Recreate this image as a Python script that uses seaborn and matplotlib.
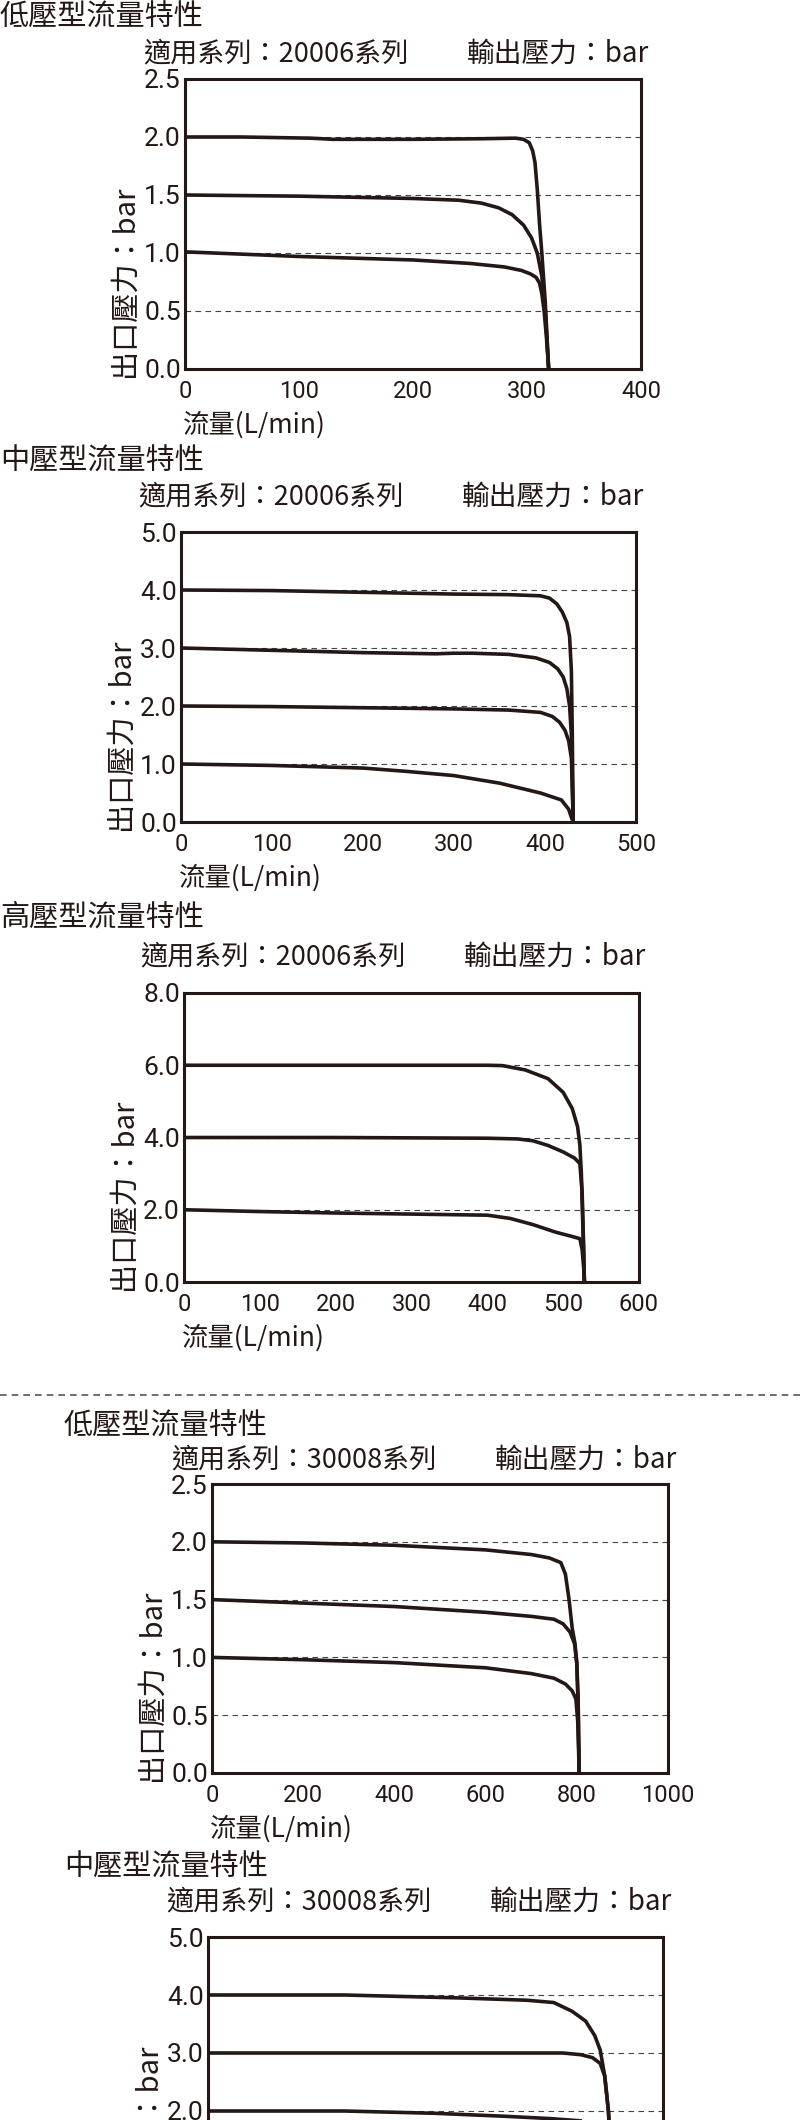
import numpy as np
import pandas as pd
import matplotlib
matplotlib.use('Agg')
import matplotlib.pyplot as plt
from matplotlib.lines import Line2D
import seaborn as sns

# ---- chart values ----
titles = ['低壓型流量特性', '中壓型流量特性', '高壓型流量特性', '低壓型流量特性', '中壓型流量特性']
series_names = ['20006', '20006', '20006', '30008', '30008']
x_max = [400, 500, 600, 1000, 1000]
y_max = [2.5, 5.0, 8.0, 2.5, 5.0]
x_label_step = [100, 100, 100, 200, 200]
x_tick_step = [100, 100, 50, 200, 200]
y_tick_step = [0.5, 1.0, 2.0, 0.5, 1.0]

# panel 1: low pressure, 20006
p1_flow_a = [0, 50, 110, 130, 200, 260, 290, 297, 302, 305, 307, 309, 311, 313, 316, 319]
p1_pres_a = [2.00, 2.00, 1.99, 1.98, 1.98, 1.985, 1.99, 1.98, 1.95, 1.88, 1.78, 1.55, 1.25, 1.00, 0.58, 0.0]
p1_flow_b = [0, 100, 200, 240, 260, 275, 287, 297, 304, 309, 313, 316, 319]
p1_pres_b = [1.50, 1.49, 1.47, 1.455, 1.43, 1.39, 1.33, 1.24, 1.13, 1.00, 0.80, 0.50, 0.0]
p1_flow_c = [0, 50, 100, 150, 200, 250, 280, 295, 303, 308, 311, 313, 315, 317, 319]
p1_pres_c = [1.01, 0.99, 0.97, 0.955, 0.94, 0.91, 0.88, 0.85, 0.82, 0.79, 0.74, 0.65, 0.50, 0.28, 0.0]

# panel 2: medium pressure, 20006
p2_flow_a = [0, 100, 200, 300, 360, 395, 405, 413, 419, 424, 427, 429, 430, 431]
p2_pres_a = [4.00, 3.99, 3.96, 3.93, 3.92, 3.90, 3.86, 3.76, 3.62, 3.44, 3.20, 2.60, 1.50, 0.0]
p2_flow_b = [0, 100, 200, 280, 300, 320, 360, 390, 405, 414, 420, 424, 427, 429, 431]
p2_pres_b = [3.00, 2.96, 2.92, 2.90, 2.91, 2.91, 2.89, 2.83, 2.75, 2.64, 2.50, 2.30, 2.00, 1.50, 0.0]
p2_flow_c = [0, 100, 200, 300, 360, 395, 408, 416, 422, 426, 429, 431]
p2_pres_c = [2.00, 1.99, 1.97, 1.95, 1.93, 1.89, 1.82, 1.72, 1.58, 1.40, 1.10, 0.0]
p2_flow_d = [0, 100, 200, 250, 300, 350, 395, 418, 426, 429, 431]
p2_pres_d = [1.00, 0.975, 0.93, 0.87, 0.80, 0.67, 0.50, 0.38, 0.22, 0.08, 0.0]

# panel 3: high pressure, 20006
p3_flow_a = [0, 200, 400, 420, 450, 480, 500, 512, 519, 522, 524, 526, 528]
p3_pres_a = [6.00, 6.00, 6.00, 5.99, 5.87, 5.63, 5.25, 4.80, 4.30, 3.80, 3.00, 1.50, 0.0]
p3_flow_b = [0, 200, 400, 440, 460, 480, 500, 515, 522, 525, 527, 528]
p3_pres_b = [4.00, 4.00, 3.98, 3.96, 3.91, 3.78, 3.60, 3.43, 3.28, 2.50, 1.00, 0.0]
p3_flow_c = [0, 100, 200, 300, 400, 430, 460, 490, 510, 522, 525, 527, 528]
p3_pres_c = [2.00, 1.95, 1.91, 1.88, 1.85, 1.76, 1.59, 1.38, 1.27, 1.20, 0.90, 0.40, 0.0]

# panel 4: low pressure, 30008
p4_flow_a = [0, 200, 400, 600, 700, 740, 765, 775, 783, 790, 796, 800, 803, 805]
p4_pres_a = [2.00, 1.99, 1.97, 1.93, 1.89, 1.86, 1.82, 1.72, 1.50, 1.25, 1.12, 0.95, 0.60, 0.0]
p4_flow_b = [0, 200, 400, 600, 700, 750, 770, 785, 795, 800, 803, 805]
p4_pres_b = [1.50, 1.47, 1.44, 1.39, 1.355, 1.33, 1.29, 1.22, 1.12, 0.95, 0.60, 0.0]
p4_flow_c = [0, 200, 400, 600, 700, 750, 775, 790, 798, 802, 804, 805]
p4_pres_c = [1.00, 0.98, 0.955, 0.91, 0.86, 0.82, 0.77, 0.71, 0.64, 0.45, 0.20, 0.0]

# panel 5: medium pressure, 30008 (cut off by the page edge)
p5_flow_a = [0, 300, 550, 700, 760, 800, 830, 850, 862, 872, 880, 886, 890]
p5_pres_a = [4.00, 4.00, 3.95, 3.91, 3.87, 3.72, 3.55, 3.30, 3.05, 2.60, 2.00, 1.20, 0.0]
p5_flow_b = [0, 400, 700, 780, 820, 845, 862, 872, 880, 886, 890]
p5_pres_b = [3.00, 3.00, 3.00, 3.00, 2.97, 2.92, 2.82, 2.60, 2.00, 1.20, 0.0]
p5_flow_c = [0, 300, 500, 650, 750, 820, 860, 878, 886, 890]
p5_pres_c = [2.00, 2.00, 1.96, 1.91, 1.87, 1.83, 1.75, 1.55, 1.00, 0.0]

panel_curves = [
    [(p1_flow_a, p1_pres_a), (p1_flow_b, p1_pres_b), (p1_flow_c, p1_pres_c)],
    [(p2_flow_a, p2_pres_a), (p2_flow_b, p2_pres_b), (p2_flow_c, p2_pres_c), (p2_flow_d, p2_pres_d)],
    [(p3_flow_a, p3_pres_a), (p3_flow_b, p3_pres_b), (p3_flow_c, p3_pres_c)],
    [(p4_flow_a, p4_pres_a), (p4_flow_b, p4_pres_b), (p4_flow_c, p4_pres_c)],
    [(p5_flow_a, p5_pres_a), (p5_flow_b, p5_pres_b), (p5_flow_c, p5_pres_c)],
]

# ---- page layout, in pixels (left, top, right, bottom) ----
W, H = 800, 2120
ax_boxes = [(185, 79, 641, 369), (181, 532, 636, 822), (184, 993, 639, 1282),
            (212, 1484, 668, 1773), (208, 1937, 663, 2227)]
title_pos = [(0, 18), (0, 462), (0, 918), (64, 1427), (64, 1868)]
sub_pos = [(143, 54), (138, 497), (140, 957), (171, 1460), (166, 1902)]
separator_y = 1395

INK = '#231815'
CJK = ['Noto Sans CJK TC', 'DejaVu Sans']
DIGITS = ['Roboto', 'Liberation Sans', 'DejaVu Sans']

sns.set_style('white')
plt.rcParams['font.family'] = CJK
plt.rcParams['text.color'] = INK


def fx(px):
    return px / W


def fy(py):
    return 1 - py / H


def draw_panel(fig, i):
    l, t, r, b = ax_boxes[i]
    ax = fig.add_axes([fx(l), fy(b), (r - l) / W, (b - t) / H])

    rows = []
    for k, (flow, pres) in enumerate(panel_curves[i]):
        for f, p in zip(flow, pres):
            rows.append({'flow': f, 'pressure': p, 'curve': k})
    df = pd.DataFrame(rows)
    sns.lineplot(data=df, x='flow', y='pressure', units='curve', estimator=None,
                 sort=False, color=INK, lw=2.6, solid_joinstyle='round',
                 solid_capstyle='butt', ax=ax, zorder=3)

    ax.set_xlim(0, x_max[i])
    ax.set_ylim(0, y_max[i])
    ax.set_xlabel('')
    ax.set_ylabel('')
    ax.set_xticks(np.arange(0, x_max[i] + 1, x_label_step[i]))
    ax.set_xticks(np.arange(0, x_max[i] + 1, x_tick_step[i]), minor=True)
    yt = np.arange(0, y_max[i] + 1e-9, y_tick_step[i])
    ax.set_yticks(yt)
    ax.set_yticklabels(['%.1f' % v for v in yt])
    ax.tick_params(axis='x', which='both', direction='in', length=7, width=1.4,
                   color=INK, pad=8, labelsize=17, labelcolor=INK)
    ax.tick_params(axis='y', length=0, pad=3, labelsize=19, labelcolor=INK)
    for lab in ax.get_xticklabels() + ax.get_yticklabels():
        lab.set_fontfamily(DIGITS)

    ax.yaxis.grid(True, linestyle=(0, (5, 4)), lw=0.8, color='#444444')
    ax.xaxis.grid(False)
    for sp in ax.spines.values():
        sp.set_visible(True)
        sp.set_linewidth(2.2)
        sp.set_color(INK)

    # headings and axis names
    fig.text(fx(title_pos[i][0]), fy(title_pos[i][1]), titles[i],
             fontsize=21, fontweight='light', ha='left', va='center')
    sx, sy = sub_pos[i]
    fig.text(fx(sx), fy(sy), '適用系列：' + series_names[i] + '系列',
             fontsize=19.5, fontweight='light', ha='left', va='center')
    fig.text(fx(sx + 324), fy(sy), '輸出壓力：bar', fontsize=20,
             fontweight='light', ha='left', va='center')
    fig.text(fx(l - 2), fy(b + 56), '流量(L/min)', fontsize=19,
             fontweight='light', ha='left', va='center')
    fig.text(fx(l - 60), fy(b + 8), '出口壓力：bar', fontsize=21, fontweight='light',
             rotation=90, ha='center', va='bottom')


def main():
    fig = plt.figure(figsize=(W / 100, H / 100), dpi=100)
    for i in range(len(titles)):
        draw_panel(fig, i)
    fig.add_artist(Line2D([0, 1], [fy(separator_y)] * 2, transform=fig.transFigure,
                          linestyle=(0, (4, 3)), lw=1.2, color='#555555'))
    fig.savefig('out.png', dpi=100)


if __name__ == '__main__':
    main()
